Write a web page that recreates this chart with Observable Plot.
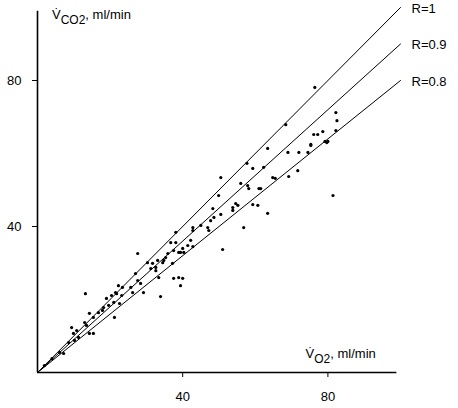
<!DOCTYPE html>
<html>
<head>
<meta charset="utf-8">
<script src="https://cdn.jsdelivr.net/npm/d3@7"></script>
<script src="https://cdn.jsdelivr.net/npm/@observablehq/plot@0.6"></script>
<style>
  html, body { margin: 0; padding: 0; background: white; }
  #chart { width: 458px; height: 408px; }
</style>
</head>
<body>
<div id="chart"></div>
<script>
const vo2 = [1.9,4.0,6.1,7.2,8.6,10.2,9.4,10.8,9.9,11.3,14.3,15.4,13.0,13.5,14.3,15.4,16.8,17.9,21.2,18.2,19.6,22.6,19.0,20.4,21.8,23.2,13.2,21.0,21.5,22.3,23.4,25.7,26.2,27.0,27.6,28.4,29.2,30.3,31.7,31.2,32.6,33.1,34.5,32.6,33.4,34.8,35.3,37.2,35.9,36.7,38.1,37.5,38.9,39.4,40.0,41.4,42.2,37.5,38.9,40.0,39.4,33.9,27.6,42.8,42.8,45.0,46.9,47.2,38.1,42.8,40.3,51.0,48.3,48.6,47.7,49.9,50.5,50.5,53.8,54.6,55.2,53.8,56.0,57.9,58.2,56.8,60.7,59.3,61.0,63.4,57.7,59.3,62.3,63.4,64.8,65.5,61.5,68.4,69.0,72.0,74.5,69.2,71.7,75.3,75.3,76.1,77.2,78.6,79.2,80.0,79.7,82.2,82.5,82.2,76.4,81.4];
const vco2 = [1.9,3.8,5.5,5.2,8.2,8.8,12.3,11.5,10.7,9.6,10.7,10.7,13.7,12.9,16.2,15.1,16.4,17.0,15.1,17.8,18.4,18.9,20.3,21.1,21.6,21.1,21.6,19.2,21.9,23.8,23.3,23.3,21.9,27.1,25.2,24.4,21.9,30.1,29.9,28.5,27.9,30.7,30.1,28.8,26.0,30.7,31.5,29.9,32.6,35.6,38.4,33.4,32.9,32.9,34.0,34.8,36.2,25.8,26.0,25.8,23.8,20.8,32.6,39.7,38.9,40.3,39.7,38.9,35.6,34.5,32.9,33.7,44.9,42.5,41.6,48.5,53.4,43.3,45.2,46.3,45.8,44.4,51.8,51.2,50.4,39.7,45.8,46.0,50.4,43.6,57.3,55.9,56.2,61.4,53.4,53.2,50.4,67.9,60.3,60.3,60.3,53.7,55.3,62.5,62.2,65.2,65.2,66.0,63.3,63.3,63.0,66.3,69.0,71.2,78.1,48.5];
const ratios = [1, 0.9, 0.8];
const xTicks = [40, 80];
const yTicks = [40, 80];
const axisMax = 99;

const points = vo2.map((v, i) => ({x: v, y: vco2[i]}));
const lineData = ratios.flatMap(r => [{x: 0, y: 0, r}, {x: axisMax + 1, y: r * (axisMax + 1), r}]);

const font = "'Liberation Sans', Arial, Helvetica, sans-serif";

const chart = Plot.plot({
  width: 458,
  height: 408,
  marginLeft: 37,
  marginRight: 58,
  marginTop: 7,
  marginBottom: 36,
  x: {domain: [0, 100]},
  y: {domain: [0, 100]},
  style: {fontFamily: font, fontSize: "13px", background: "white", color: "black"},
  marks: [
    Plot.ruleY([0], {x1: 0, x2: axisMax, stroke: "black", strokeWidth: 1.6}),
    Plot.ruleX([0], {y1: 0, y2: axisMax, stroke: "black", strokeWidth: 1.6}),
    Plot.axisX(xTicks, {tickSize: 5, tickPadding: 14, fontSize: 13, label: null, stroke: "black"}),
    Plot.axisY(yTicks, {tickSize: 5, tickPadding: 11, fontSize: 13, label: null, stroke: "black"}),
    Plot.line(lineData, {x: "x", y: "y", z: "r", stroke: "black", strokeWidth: 1}),
    Plot.dot(points, {x: "x", y: "y", r: 1.6, fill: "black", stroke: "none"}),
    Plot.text(ratios, {x: () => axisMax + 1, y: r => r * (axisMax + 1), text: r => `R=${r}`, textAnchor: "start", dx: 11, dy: 1, fontSize: 13, fill: "black"})
  ]
});

document.getElementById("chart").appendChild(chart);

// Axis titles with dotted V and subscripts
const svg = d3.select(chart);
const xs = chart.scale("x"), ys = chart.scale("y");
function title(px, py, sub) {
  const t = svg.append("text")
    .attr("x", px).attr("y", py)
    .attr("text-anchor", "start")
    .attr("font-family", font).attr("font-size", 13).attr("fill", "black");
  t.append("tspan").text("V\u0307");
  t.append("tspan").attr("dy", 5).attr("font-size", 12).text(sub);
  t.append("tspan").attr("dy", -5).text(", ml/min");
}
title(xs.apply(0) + 15, ys.apply(100) + 12, "CO2");
title(xs.apply(74), ys.apply(0) - 14, "O2");
</script>
</body>
</html>
